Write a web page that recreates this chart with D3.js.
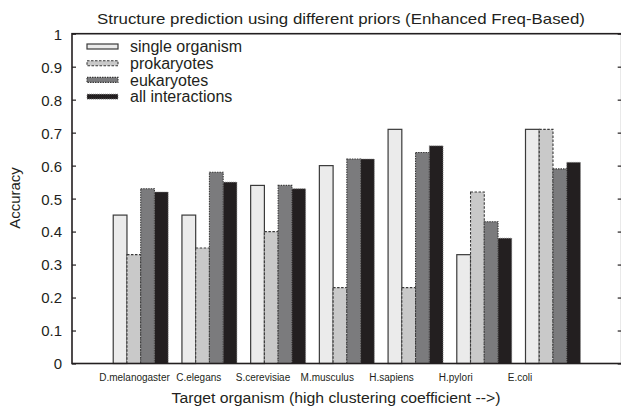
<!DOCTYPE html>
<html><head><meta charset="utf-8">
<script src="https://cdn.jsdelivr.net/npm/d3@7"></script>
<style>html,body{margin:0;padding:0;background:#fff;}svg{display:block;}text{font-family:"Liberation Sans",Arial,sans-serif;fill:#231f20;}</style>
</head><body>
<script>
const categories = ["D.melanogaster","C.elegans","S.cerevisiae","M.musculus","H.sapiens","H.pylori","E.coli"];
const seriesNames = ["single organism","prokaryotes","eukaryotes","all interactions"];
const singleOrganism = [0.45,0.45,0.54,0.60,0.71,0.33,0.71];
const prokaryotes    = [0.33,0.35,0.40,0.23,0.23,0.52,0.71];
const eukaryotes     = [0.53,0.58,0.54,0.62,0.64,0.43,0.59];
const allInteractions= [0.52,0.55,0.53,0.62,0.66,0.38,0.61];
const yTicks = [0,0.1,0.2,0.3,0.4,0.5,0.6,0.7,0.8,0.9,1];
const yTickLabels = ["0","0.1","0.2","0.3","0.4","0.5","0.6","0.7","0.8","0.9","1"];
const title = "Structure prediction using different priors (Enhanced Freq-Based)";
const xTitle = "Target organism (high clustering coefficient -->)";
const yTitle = "Accuracy";

const series = [singleOrganism, prokaryotes, eukaryotes, allInteractions];
const styles = [
  {fill:"#ebebeb", stroke:"#3a3a3a", dash:null, sw:1.2},
  {fill:"#c9c9c9", stroke:"#3a3a3a", dash:"2.5,1.5", sw:1.1},
  {fill:"#7b7b7d", stroke:"#3a3a3a", dash:"1.5,1", sw:1.1},
  {fill:"#231f20", stroke:"#8a8a8a", dash:"1,1", sw:0.8}
];

const W=621,H=415;
const L=72, R=621.7, T=33.7, B=363.5;
const svg=d3.select("body").append("svg").attr("width",W).attr("height",H);

const x=d3.scaleLinear().domain([0,8]).range([L,R]);
const y=d3.scaleLinear().domain([0,1]).range([B,T]);
const barW=0.2;
const xl=d3.scalePoint().domain(categories).range([134.5,520]);

// bars
series.forEach((vals,j)=>{
  const st=styles[j];
  svg.append("g").selectAll("rect").data(vals).join("rect")
    .attr("x",(d,i)=>x(i+1-0.4+barW*j))
    .attr("width",x(barW)-x(0))
    .attr("y",d=>y(d))
    .attr("height",d=>y(0)-y(d))
    .attr("fill",st.fill).attr("stroke",st.stroke)
    .attr("stroke-width",st.sw)
    .attr("stroke-dasharray",st.dash);
});

// frame and ticks
svg.append("rect").attr("x",L).attr("y",T).attr("width",R-L).attr("height",B-T)
  .attr("fill","none").attr("stroke","#231f20").attr("stroke-width",1.6);
const leftAxis=d3.axisLeft(y).tickValues(yTicks).tickSize(-4).tickPadding(10).tickFormat((d,i)=>yTickLabels[i]);
const gL=svg.append("g").attr("transform",`translate(${L},0)`).call(leftAxis);
gL.select(".domain").remove();
gL.selectAll(".tick line").attr("stroke","#231f20").attr("stroke-width",1.2);
gL.selectAll(".tick text").attr("font-size",15).attr("font-family","Liberation Sans, Arial, sans-serif").attr("fill","#231f20").attr("dy","0.36em");
const rightAxis=d3.axisRight(y).tickValues(yTicks).tickSize(-4).tickFormat("");
const gR=svg.append("g").attr("transform",`translate(${R},0)`).call(rightAxis);
gR.select(".domain").remove();
gR.selectAll(".tick line").attr("stroke","#231f20").attr("stroke-width",1.2);

// x labels
svg.append("g").selectAll("g").data(categories).join("g")
  .attr("transform",d=>`translate(${xl(d)},381)`)
  .append("text").attr("text-anchor","middle").attr("font-size",11.5)
  .attr("transform","scale(0.87,1)").text(d=>d);

// titles
svg.append("text").attr("x",341).attr("y",24).attr("text-anchor","middle").attr("font-size",15)
  .attr("textLength",488).attr("lengthAdjust","spacingAndGlyphs").text(title);
svg.append("text").attr("x",336).attr("y",403).attr("text-anchor","middle").attr("font-size",15.5)
  .attr("textLength",329).attr("lengthAdjust","spacingAndGlyphs").text(xTitle);
svg.append("text").attr("transform","translate(20,198) rotate(-90)").attr("text-anchor","middle").attr("font-size",15).text(yTitle);

// legend
const lg=svg.append("g");
seriesNames.forEach((name,j)=>{
  const st=styles[j];
  const cy=46.5+j*16.7;
  lg.append("rect").attr("x",87).attr("y",cy-2.5).attr("width",31).attr("height",5)
    .attr("fill",st.fill).attr("stroke",st.stroke).attr("stroke-width",st.sw).attr("stroke-dasharray",st.dash);
  lg.append("text").attr("x",130).attr("y",cy).attr("dy","0.36em").attr("font-size",16).text(name);
});
</script>
</body></html>
